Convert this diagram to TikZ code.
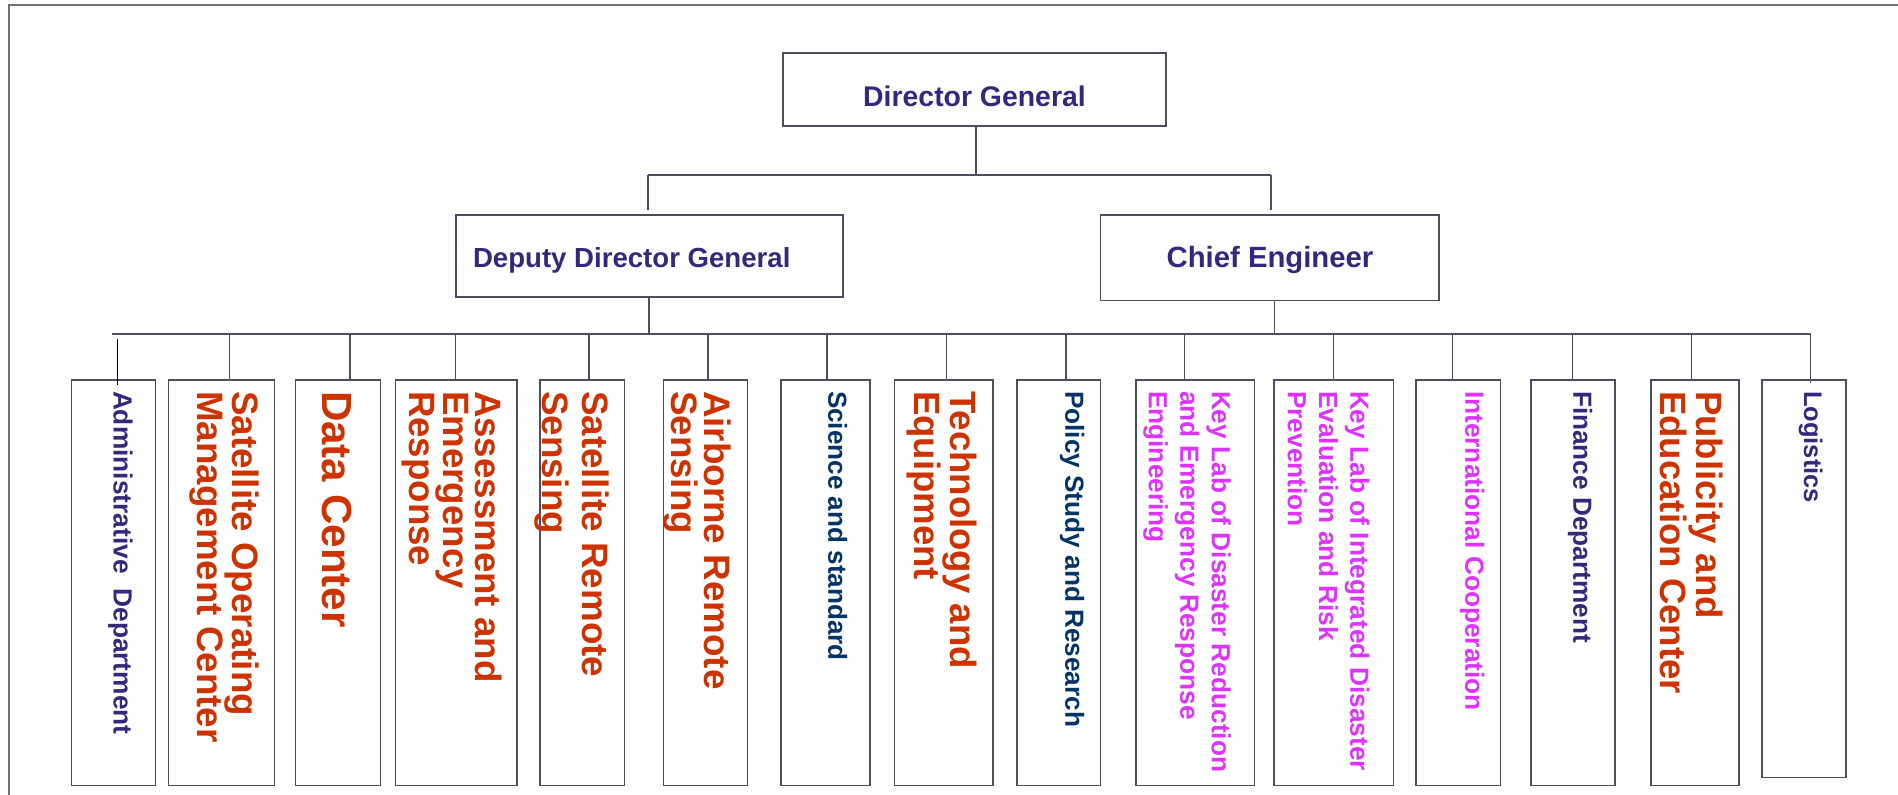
\documentclass[tikz,border=0pt]{standalone}
\usepackage{fontspec}
\setmainfont{Liberation Sans}
\definecolor{navy}{RGB}{51,41,124}
\definecolor{dblue}{RGB}{0,51,102}
\definecolor{orng}{RGB}{204,51,0}
\definecolor{mag}{RGB}{221,51,255}
\definecolor{edgec}{RGB}{75,78,92}
\definecolor{framec}{RGB}{110,112,125}
\newcommand\mysz[2]{\fontsize{#1}{#2}\selectfont\bfseries}
\begin{document}
\begin{tikzpicture}[x=1pt,y=-1pt,
  boxs/.style={draw=edgec, line width=1.5pt, inner sep=0pt, outer sep=0pt, anchor=north west},
  lbl/.style={inner sep=0pt, outer sep=0pt, text=navy},
  vlbl/.style={inner sep=0pt, outer sep=0pt, rotate=-90, anchor=north west, align=left},
  conn/.style={draw=edgec, line width=1.3pt}]
\useasboundingbox (0,0) rectangle (1898,795);
% frame
\draw[framec, line width=2pt] (9.3,795) -- (9.3,5) -- (1898,5);
% top boxes
\node[boxs, minimum width=383pt, minimum height=73pt] (dg) at (783,53) {};
\node[lbl, font=\mysz{28.4}{34}, anchor=base] (dgt) at (974.5,106) {Director General};
\node[boxs, minimum width=387pt, minimum height=82pt] (ddg) at (456,215) {};
\node[lbl, font=\mysz{27.6}{34}, anchor=base west] (ddgt) at (473,267) {Deputy Director General};
\node[boxs, minimum width=338.5pt, minimum height=85.6pt] (ce) at (1100.5,215) {};
\node[lbl, font=\mysz{29.3}{34}, anchor=base] (cet) at (1270,267) {Chief Engineer};
% connectors upper
\coordinate (j0) at (976,175);
\coordinate (jl) at (648,175);
\coordinate (jr) at (1271,175);
\coordinate (jlb) at (648,210);
\coordinate (jrb) at (1271,210);
\draw[conn] (dg.south -| j0) -- (j0);
\draw[conn] (jl) -- (jr);
\draw[conn] (jl) -- (jlb);
\draw[conn] (jr) -- (jrb);
\coordinate (ka) at (649,334);
\coordinate (kb) at (1274.7,334);
\draw[conn] (ddg.south -| ka) -- (ka);
\draw[conn] (ce.south -| kb) -- (kb);
\coordinate (busl) at (112,334);
\coordinate (busr) at (1810.6,334);
\draw[conn] (busl) -- (busr);
% bottom boxes
\node[boxs, minimum width=84.2pt, minimum height=405.7pt] (b1) at (71.3,380) {};
\node[boxs, minimum width=106.2pt, minimum height=405.7pt] (b2) at (168.3,380) {};
\node[boxs, minimum width=85pt, minimum height=405.7pt] (b3) at (295.6,380) {};
\node[boxs, minimum width=121.5pt, minimum height=405.7pt] (b4) at (395.5,380) {};
\node[boxs, minimum width=84.6pt, minimum height=405.7pt] (b5) at (539.8,380) {};
\node[boxs, minimum width=83.8pt, minimum height=405.7pt] (b6) at (663.6,380) {};
\node[boxs, minimum width=89pt, minimum height=405.7pt] (b7) at (781,380) {};
\node[boxs, minimum width=98.6pt, minimum height=405.7pt] (b8) at (894.6,380) {};
\node[boxs, minimum width=83.7pt, minimum height=405.7pt] (b9) at (1016.9,380) {};
\node[boxs, minimum width=118.6pt, minimum height=405.7pt] (b10) at (1135.8,380) {};
\node[boxs, minimum width=119.3pt, minimum height=405.7pt] (b11) at (1274,380) {};
\node[boxs, minimum width=84.1pt, minimum height=405.7pt] (b12) at (1416.2,380) {};
\node[boxs, minimum width=84.2pt, minimum height=405.7pt] (b13) at (1531,380) {};
\node[boxs, minimum width=88.1pt, minimum height=405.7pt] (b14) at (1650.9,380) {};
\node[boxs, minimum width=84.1pt, minimum height=397.7pt] (b15) at (1761.8,380) {};
% drops
\coordinate (d1t) at (117.3,339); \coordinate (d1b) at (117.3,385);
\draw[line width=1.3pt, black] (d1t) -- (d1b);
\foreach \xx/\bb in {229.3/b2,350/b3,455.6/b4,589/b5,708/b6,827/b7,946.5/b8,1066/b9,1184.6/b10,1333.5/b11,1452.8/b12,1572.5/b13,1691.5/b14}{
  \coordinate (dd) at (\xx,334);
  \draw[conn] (dd) -- (dd |- \bb.north);
}
\coordinate (d15t) at (1810.6,334); \coordinate (d15b) at (1810.6,383);
\draw[conn] (d15t) -- (d15b);
% bottom texts
\node[vlbl, text=navy, font=\mysz{26.3}{31}] (t1) at (132.7,391) {Administrative\hspace{0.56em}Department};
\node[vlbl, text=orng, font=\mysz{36.8}{35}] (t2) at (259.1,391) {Satellite Operating\\Management Center};
\node[vlbl, text=orng, font=\mysz{42.2}{44}] (t3) at (352.4,391) {Data Center};
\node[vlbl, text=orng, font=\mysz{36.7}{32}] (t4) at (501.7,391) {Assessment and\\Emergency\\Response};
\node[vlbl, text=orng, font=\mysz{36.8}{40}] (t5) at (609.5,391) {Satellite Remote\\Sensing};
\node[vlbl, text=orng, font=\mysz{36.8}{33}] (t6) at (731.2,391) {Airborne Remote\\Sensing};
\node[vlbl, text=dblue, font=\mysz{26.1}{31}] (t7) at (847.3,391) {Science and standard};
\node[vlbl, text=orng, font=\mysz{36.6}{32}] (t8) at (976.7,391) {Technology and\\Equipment};
\node[vlbl, text=dblue, font=\mysz{26.2}{31}] (t9) at (1084.4,391) {Policy Study and Research};
\node[vlbl, text=mag, font=\mysz{26.3}{31.5}] (t10) at (1230.8,391) {Key Lab of Disaster Reduction\\and Emergency Response\\Engineering};
\node[vlbl, text=mag, font=\mysz{26.3}{31.2}] (t11) at (1369.3,391) {Key Lab of Integrated Disaster\\Evaluation and Risk\\Prevention};
\node[vlbl, text=mag, font=\mysz{26.3}{31}] (t12) at (1484.3,391) {International Cooperation};
\node[vlbl, text=navy, font=\mysz{26.2}{31}] (t13) at (1592.4,391) {Finance Department};
\node[vlbl, text=orng, font=\mysz{36.6}{34}] (t14) at (1722.5,391) {Publicity and\\Education Center};
\node[vlbl, text=navy, font=\mysz{25.5}{31}] (t15) at (1822.7,391) {Logistics};
\end{tikzpicture}
\end{document}
